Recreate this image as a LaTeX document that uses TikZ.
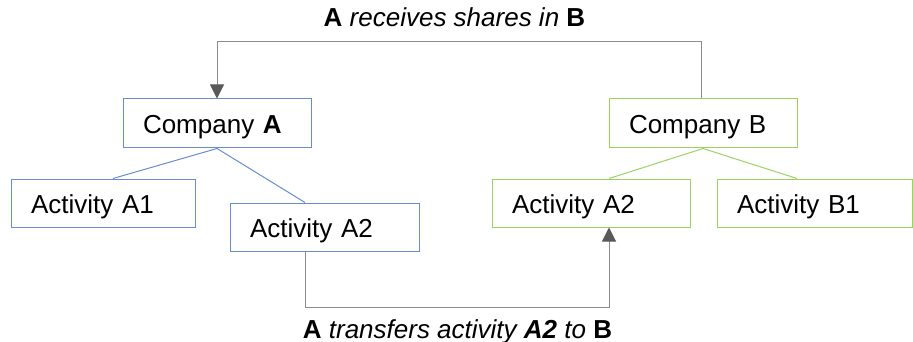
\documentclass[tikz,border=0pt]{standalone}
\usepackage{fontspec}
\setmainfont{Liberation Sans}
\usetikzlibrary{positioning,arrows.meta}
\definecolor{boxblue}{RGB}{104,141,204}
\definecolor{boxgreen}{RGB}{155,211,99}
\definecolor{linkgray}{RGB}{140,140,140}
\definecolor{tipgray}{RGB}{89,89,89}
\tikzset{
  unit/.style={draw, line width=1pt, inner xsep=20pt, inner ysep=0pt, minimum height=48pt,
    text height=20pt, text depth=0pt, align=left, font=\fontsize{26}{30}\selectfont},
  unitA/.style={unit, draw=boxblue},
  unitB/.style={unit, draw=boxgreen},
  flow/.style={draw=linkgray, line width=1pt, -{Triangle[width=14pt,length=14pt,color=tipgray]}},
  flowlbl/.style={inner sep=0pt, text height=18.6pt, text depth=0pt, font=\fontsize{26}{30}\selectfont}
}

\begin{document}
\begin{tikzpicture}[node distance=30pt]
    \useasboundingbox (0,0) rectangle (913pt,-342pt);
    \node [unitA, text width=148pt, minimum height=49pt] (compA) at (217pt,-123.5pt) {Company \textbf{A}};
    \node [unitB, text width=148pt, minimum height=49pt, right=297pt of compA] (compB) {Company B};
    \node [unitA, text width=144pt, below=of compA, xshift=-114pt] (actA1) {Activity A1};
    \node [unitA, text width=149pt, below=54pt of compA, xshift=107.5pt] (actA2) {Activity A2};
    \node [unitB, text width=158pt, below=of compB, xshift=-112pt] (actA2B) {Activity A2};
    \node [unitB, text width=155pt, right=26pt of actA2B] (actB1) {Activity B1};

    \draw [boxblue, line width=1pt] ([xshift=10pt]actA1.north) -- (compA.south) -- ([xshift=-19.5pt]actA2.north);
    \draw [boxgreen, line width=1pt] ([xshift=18pt]actA2B.north) -- (compB.south) -- ([xshift=-17.5pt]actB1.north);

    % shares go back to A
    \coordinate [above=57pt of compB.north, xshift=-2pt] (sharesturn);
    \draw [flow] ([xshift=-2pt]compB.north) -- (sharesturn) -| (compA.north);
    \node [flowlbl, above=15pt of sharesturn, xshift=-246.5pt] (shareslbl) {\textbf{A} \textit{receives shares in} \textbf{B}};

    % activity A2 moves to B
    \coordinate [below=56pt of actA2.south, xshift=-19.5pt] (transferturn);
    \draw [flow] ([xshift=-19.5pt]actA2.south) -- (transferturn) -| ([xshift=18pt]actA2B.south);
    \node [flowlbl, below=12pt of transferturn, xshift=152.5pt] (transferlbl) {\textbf{A} \textit{transfers activity \textbf{A2} to} \textbf{B}};
\end{tikzpicture}
\end{document}
